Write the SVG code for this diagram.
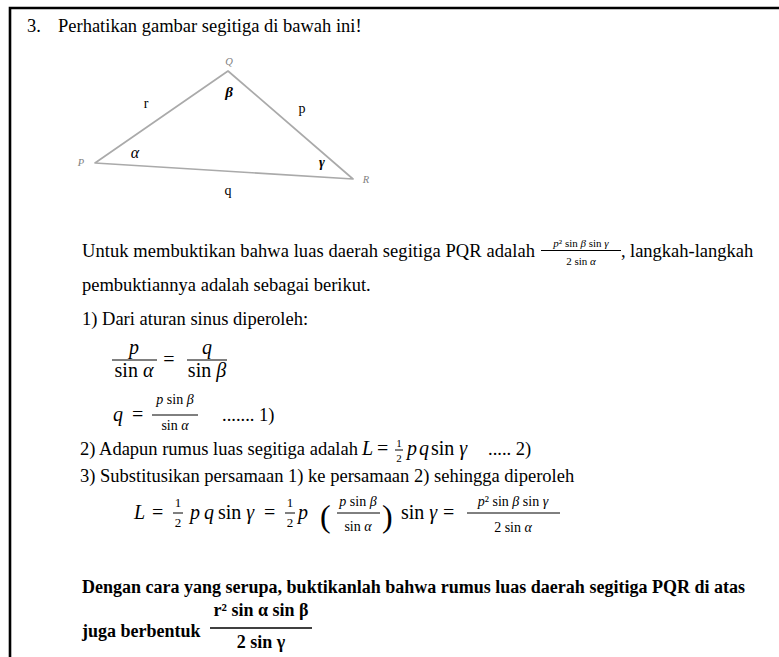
<svg xmlns="http://www.w3.org/2000/svg" width="779" height="657" viewBox="0 0 779 657">
<style>
text { font-family: "Liberation Serif", "Times New Roman", serif; fill: #000; }
.t { font-size: 18.5px; }
.bd { font-size: 18px; font-weight: bold; }
.m { font-size: 20px; }
.s { font-size: 14px; }
.xs { font-size: 11px; }
.h { font-size: 13px; }
.i { font-style: italic; }
.bi { font-style: italic; font-weight: bold; }
.c { text-anchor: middle; }
.fl { stroke: #000; stroke-width: 1; fill: none; }
.fb { stroke: #000; stroke-width: 1.6; fill: none; }
.vx { font-size: 10.5px; font-style: italic; fill: #808080; }
.lb { font-size: 14px; }
</style>
<rect width="779" height="657" fill="#fff"/>
<path d="M10,660 V8 H782" fill="none" stroke="#000" stroke-width="2.6"/>

<g id="title">
  <text class="t" x="27" y="32">3.</text>
  <text class="t" x="58" y="32">Perhatikan gambar segitiga di bawah ini!</text>
</g>

<g id="connectors">
  <polygon points="95,163 228,71 353,179" fill="none" stroke="#aaaaaa" stroke-width="1.7" stroke-linejoin="round"/>
</g>
<g id="vertex-Q"><text class="vx c" x="229" y="65">Q</text></g>
<g id="vertex-P"><text class="vx c" x="81" y="166">P</text></g>
<g id="vertex-R"><text class="vx c" x="366" y="183">R</text></g>
<g id="angle-beta"><text class="bi c" style="font-size:15px" x="229" y="97">β</text></g>
<g id="angle-alpha"><text class="i c" style="font-size:16px" x="135" y="158">α</text></g>
<g id="angle-gamma"><text class="bi c" style="font-size:14px" x="322" y="167">γ</text></g>
<g id="side-r"><text class="lb c" x="146" y="108">r</text></g>
<g id="side-p"><text class="lb c" x="302" y="113">p</text></g>
<g id="side-q"><text class="lb c" x="228" y="195">q</text></g>

<g id="intro">
  <text class="t" x="82" y="257" textLength="453" lengthAdjust="spacing">Untuk membuktikan bahwa luas daerah segitiga PQR adalah</text>
  <text class="xs c" x="581" y="247"><tspan class="i">p</tspan>² sin <tspan class="i">β</tspan>  sin <tspan class="i">γ</tspan></text>
  <line class="fl" x1="541" y1="250.5" x2="621" y2="250.5" stroke-width="0.8"/>
  <text class="xs c" x="581" y="265">2 sin <tspan class="i">α</tspan></text>
  <text class="t" x="621" y="257">,</text>
  <text class="t" x="630" y="257">langkah-langkah</text>
  <text class="t" x="82" y="291">pembuktiannya adalah sebagai berikut.</text>
</g>

<g id="step1">
  <text class="t" x="82" y="325">1) Dari aturan sinus diperoleh:</text>
  <text class="m i c" x="134" y="354">p</text>
  <line class="fl" x1="112" y1="360" x2="157" y2="360"/>
  <text class="m c" x="134" y="377">sin <tspan class="i">α</tspan></text>
  <text class="m c" x="169" y="366">=</text>
  <text class="m i c" x="207" y="354">q</text>
  <line class="fl" x1="187" y1="360" x2="227" y2="360"/>
  <text class="m c" x="207" y="377">sin <tspan class="i">β</tspan></text>

  <text class="m i" x="113" y="421">q</text>
  <text class="m" x="132" y="421">=</text>
  <text class="s c" x="175" y="404"><tspan class="i">p</tspan> sin <tspan class="i">β</tspan></text>
  <line class="fl" x1="152" y1="415" x2="198" y2="415"/>
  <text class="s c" x="175" y="430">sin <tspan class="i">α</tspan></text>
  <text class="t" x="222" y="421">....... 1)</text>
</g>

<g id="step2">
  <text class="t" x="80" y="455">2) Adapun rumus luas segitiga adalah</text>
  <text class="m i" x="362" y="455">L</text>
  <text class="m" x="377" y="455">=</text>
  <text class="xs c" x="399" y="447">1</text>
  <line class="fl" x1="395" y1="450" x2="403" y2="450" stroke-width="0.8"/>
  <text class="xs c" x="399" y="462">2</text>
  <text class="m i" x="407" y="455">p</text>
  <text class="m i" x="419" y="455">q</text>
  <text class="m" x="431" y="455">sin <tspan class="i">γ</tspan></text>
  <text class="t" x="488" y="455">..... 2)</text>
</g>

<g id="step3">
  <text class="t" x="80" y="482">3) Substitusikan persamaan 1) ke persamaan 2) sehingga diperoleh</text>
  <text class="m i" x="134" y="519">L</text>
  <text class="m" x="152" y="519">=</text>
  <text class="h c" x="178" y="507">1</text>
  <line class="fl" x1="173" y1="513" x2="183" y2="513"/>
  <text class="h c" x="178" y="527">2</text>
  <text class="m i" x="190" y="519">p</text>
  <text class="m i" x="204" y="519">q</text>
  <text class="m" x="218" y="519">sin <tspan class="i">γ</tspan></text>
  <text class="m" x="264" y="519">=</text>
  <text class="h c" x="290" y="507">1</text>
  <line class="fl" x1="285" y1="513" x2="295" y2="513"/>
  <text class="h c" x="290" y="527">2</text>
  <text class="m i" x="298" y="519">p</text>
  <text x="320" y="527" style="font-size:32px">(</text>
  <text class="s c" x="358" y="506"><tspan class="i">p</tspan> sin <tspan class="i">β</tspan></text>
  <line class="fl" x1="337" y1="513" x2="380" y2="513"/>
  <text class="s c" x="358" y="531">sin <tspan class="i">α</tspan></text>
  <text x="382" y="527" style="font-size:32px">)</text>
  <text class="m" x="401" y="519">sin <tspan class="i">γ</tspan></text>
  <text class="m" x="443" y="519">=</text>
  <text class="s c" x="513" y="506"><tspan class="i">p</tspan>² sin <tspan class="i">β</tspan> sin <tspan class="i">γ</tspan></text>
  <line class="fl" x1="467" y1="513" x2="560" y2="513"/>
  <text class="s c" x="513" y="532">2 sin <tspan class="i">α</tspan></text>
</g>

<g id="task">
  <text class="bd" x="82" y="593" textLength="663" lengthAdjust="spacing">Dengan cara yang serupa, buktikanlah bahwa rumus luas daerah segitiga PQR di atas</text>
  <text class="bd" x="82" y="637">juga berbentuk</text>
  <text class="bd c" x="261" y="616">r² sin α sin β</text>
  <line class="fb" x1="210" y1="628" x2="312" y2="628"/>
  <text class="bd c" x="261" y="648">2 sin γ</text>
</g>
</svg>
